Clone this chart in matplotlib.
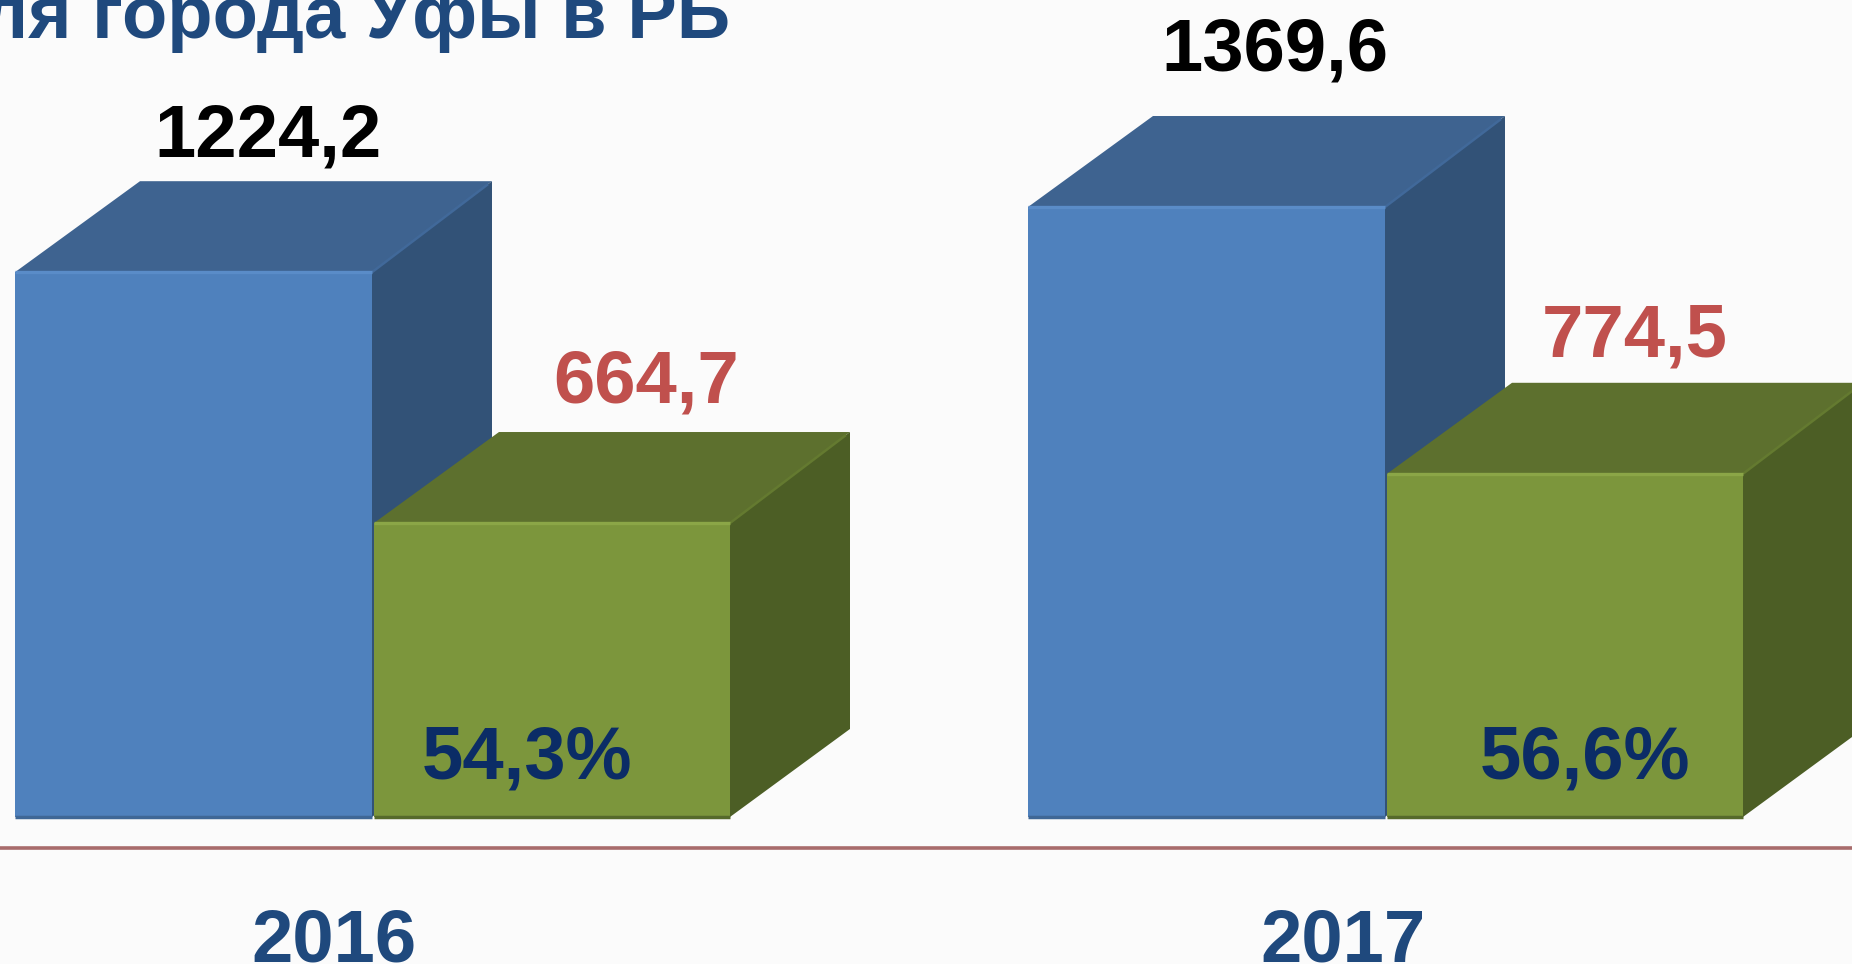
"""Two-year 3D-look column chart, Ufa share in the republic (cropped slide)."""
import matplotlib
matplotlib.use("Agg")
import matplotlib.pyplot as plt
from matplotlib.patches import Polygon
from matplotlib.transforms import Affine2D

plt.rcParams["font.family"] = ["Liberation Sans", "DejaVu Sans"]

years = ["2016", "2017"]
republic = [1224.2, 1369.6]
ufa = [664.7, 774.5]
share = ["54,3%", "56,6%"]
title = "ля города Уфы в РБ"

W, H = 1852, 964
ZERO_PX = 821          # pixel row of value 0, the columns stand on FLOOR just above it
FLOOR = 9
PX_PER_UNIT = 0.4483
DX, DY = 120, 91       # 3D depth in pixels
DY_BOTTOM = 88
INSET = 5              # back-left corner of the top face sits a little to the right
BLUE_W, GREEN_W = 357, 356
BAR_LEFT = [15, 1028]

BG = "#FBFBFB"
BLUE = dict(front="#4F81BD", top="#3E6390", side="#325277", hi="#5A8CC8", lo="#3F6796", diag="#41699A")
GREEN = dict(front="#7C963C", top="#5D702E", side="#4C5E25", hi="#8BA647", lo="#566A2B", diag="#647A30")

fig = plt.figure(figsize=(W / 100, H / 100), dpi=100, facecolor=BG)
ax = fig.add_axes([0, 0, 1, 1])
ax.set_xlim(0, W)
ax.set_ylim(-(H - ZERO_PX) / PX_PER_UNIT, ZERO_PX / PX_PER_UNIT)
ax.axis("off")

# text is placed in image pixels, y down
px = Affine2D().scale(1, -1).translate(0, H)


def box(left, width, value, pal, z):
    """Front face through ax.bar, top and side faces as parallelograms."""
    dy = DY / PX_PER_UNIT
    dy_low = DY_BOTTOM / PX_PER_UNIT
    right = left + width
    top = Polygon([(left, value), (right, value), (right + DX, value + dy), (left + DX + INSET, value + dy)],
                  fc=pal["top"], ec="none", zorder=z)
    side = Polygon([(right, FLOOR), (right + DX, FLOOR + dy_low), (right + DX, value + dy), (right, value)],
                   fc=pal["side"], ec="none", zorder=z)
    ax.add_patch(top)
    ax.add_patch(side)
    ax.bar(left, value - FLOOR, bottom=FLOOR, width=width, align="edge", color=pal["front"], zorder=z + 0.1)
    ax.plot([left, right], [value, value], color=pal["hi"], lw=2.4, zorder=z + 0.2, solid_capstyle="butt")
    ax.plot([left, right], [FLOOR, FLOOR], color=pal["lo"], lw=2.5, zorder=z + 0.2, solid_capstyle="butt")
    ax.plot([right, right + DX - 4], [value, value + dy * (DX - 4) / DX], color=pal["diag"], lw=1.8,
            zorder=z + 0.05, solid_capstyle="butt")


for i, left in enumerate(BAR_LEFT):
    box(left, BLUE_W, republic[i], BLUE, 2 + i * 3)
    box(left + BLUE_W + 2, GREEN_W, ufa[i], GREEN, 3 + i * 3)

# red rule between the columns and the year labels
ax.plot([0, W], [848, 848], transform=px, color="#A86C6C", lw=2.6, zorder=1)


def label(x, y, s, color, ha="center"):
    ax.text(x, y, s, transform=px, ha=ha, va="baseline", color=color, zorder=20,
            fontweight="bold", fontsize=53.5)


label_x = dict(total=[268, 1275], part=[646, 1635], pct=[527, 1585], year=[334, 1343])
label_y = dict(total=[156, 70], part=[403, 356], pct=[778, 779], year=[962, 962])
for i in range(2):
    label(label_x["total"][i], label_y["total"][i], f"{republic[i]:.1f}".replace(".", ","), "black")
    label(label_x["part"][i], label_y["part"][i], f"{ufa[i]:.1f}".replace(".", ","), "#C0504D")
    label(label_x["pct"][i], label_y["pct"][i], share[i], "#0B2C66")
    label(label_x["year"][i], label_y["year"][i], years[i], "#1F497D")

label(730, 38, title, "#1F497D", ha="right")

fig.savefig("out.png", dpi=100, facecolor=BG)
